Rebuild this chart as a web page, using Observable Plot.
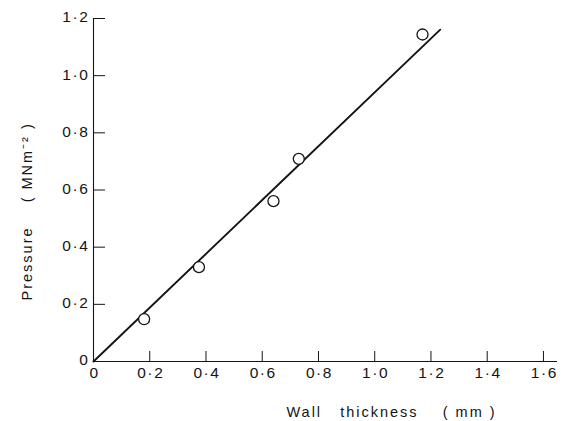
<!DOCTYPE html>
<html>
<head>
<meta charset="utf-8">
<script src="https://cdn.jsdelivr.net/npm/d3@7"></script>
<script src="https://cdn.jsdelivr.net/npm/@observablehq/plot@0.6"></script>
<style>
  html, body { margin: 0; padding: 0; background: #fff; }
  svg text { white-space: pre; letter-spacing: 2px; }
  svg g.ticklab text { letter-spacing: 1.6px; }
</style>
</head>
<body>
<div id="chart"></div>
<script>
// Measured points
const thickness = [0.18, 0.375, 0.64, 0.73, 1.17];
const pressure  = [0.148, 0.33, 0.561, 0.709, 1.144];
// Fitted line end points
const fitX = [0, 1.233];
const fitY = [0, 1.161];
// Ticks
const xTicks = [0, 0.2, 0.4, 0.6, 0.8, 1.0, 1.2, 1.4, 1.6];
const yTicks = [0, 0.2, 0.4, 0.6, 0.8, 1.0, 1.2];
const xLabel = "Wall   thickness    ( mm )";
const yLabel = "Pressure    ( MNm\u207B\u00B2 )";

const pts = thickness.map((x, i) => ({x, y: pressure[i]}));
const fit = fitX.map((x, i) => ({x, y: fitY[i]}));
const fmt = d => d === 0 ? "0" : d.toFixed(1).replace(".", "\u00B7");

const W = 568, H = 421;
const mL = 93, mR = 11, mT = 18, mB = 60;
const xDom = [0, 1.65], yDom = [0, 1.2];
const pxX = (W - mL - mR) / (xDom[1] - xDom[0]);
const pxY = (H - mT - mB) / (yDom[1] - yDom[0]);
const xTickLen = 10 / pxY;  // x ticks point up, in y units
const yTickLen = 12 / pxX;  // y ticks point right, in x units

const font = "'Liberation Sans', Arial, sans-serif";
const ink = "#141414";

const chart = Plot.plot({
  width: W, height: H,
  marginLeft: mL, marginRight: mR, marginTop: mT, marginBottom: mB,
  x: {domain: xDom, axis: null},
  y: {domain: yDom, axis: null},
  style: {fontFamily: font, background: "#fff", color: ink},
  marks: [
    // axis lines
    Plot.ruleY([0], {x1: 0, x2: xDom[1], stroke: ink, strokeWidth: 1.1}),
    Plot.ruleX([0], {y1: 0, y2: yDom[1], stroke: ink, strokeWidth: 1.1}),
    // inward ticks
    Plot.ruleX(xTicks.slice(1), {x: d => d, y1: 0, y2: xTickLen, stroke: ink, strokeWidth: 1}),
    Plot.ruleY(yTicks.slice(1), {y: d => d, x1: 0, x2: yTickLen, stroke: ink, strokeWidth: 1}),
    // tick labels
    Plot.text(xTicks, {x: d => d, y: 0, text: fmt, dx: 1, dy: 12, fontSize: 15.5, fill: ink,
      textAnchor: "middle", lineAnchor: "middle", className: "ticklab"}),
    Plot.text(yTicks, {x: 0, y: d => d, text: fmt, dx: -4, dy: -1, textAnchor: "end",
      lineAnchor: "middle", fontSize: 15.5, fill: ink, className: "ticklab"}),
    // fitted line
    Plot.line(fit, {x: "x", y: "y", stroke: ink, strokeWidth: 1.9}),
    // data points
    Plot.dot(pts, {x: "x", y: "y", r: 5.5, stroke: ink, fill: "#fff", strokeWidth: 1.3}),
    // axis titles
    Plot.text([xLabel], {frameAnchor: "bottom", textAnchor: "middle", lineAnchor: "middle",
      dx: 66, dy: 51, fontSize: 14.5, fill: ink}),
    Plot.text([yLabel], {frameAnchor: "bottom-left", textAnchor: "start", lineAnchor: "middle",
      rotate: -90, dx: -66, dy: -61, fontSize: 14.5, fill: ink})
  ]
});
document.getElementById("chart").appendChild(chart);
</script>
</body>
</html>
